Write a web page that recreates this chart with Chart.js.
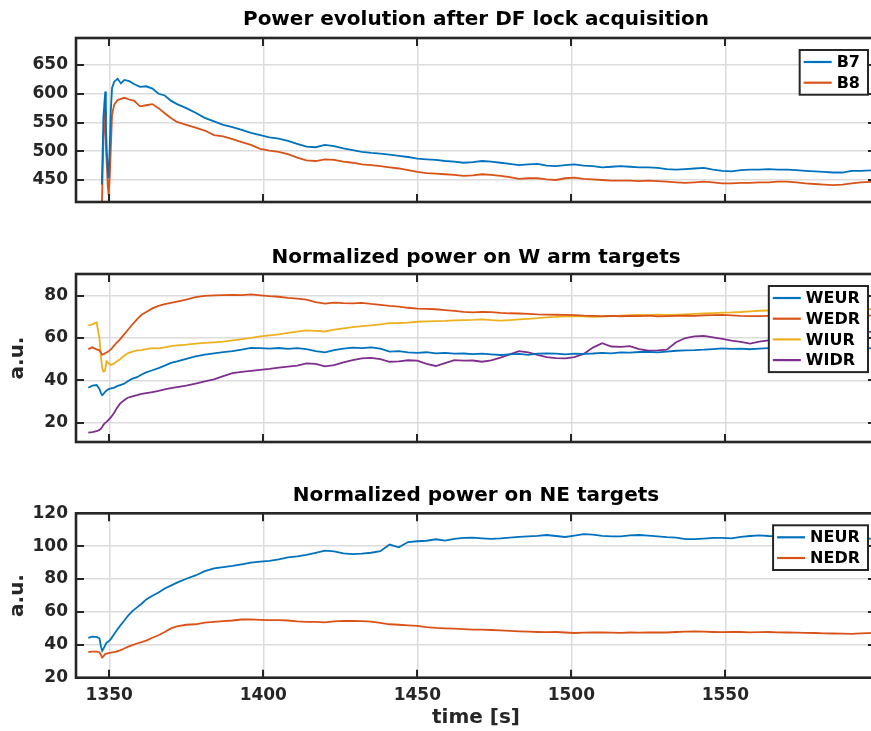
<!DOCTYPE html>
<html>
<head>
<meta charset="utf-8">
<script src="https://cdn.jsdelivr.net/npm/chart.js@4.4.1/dist/chart.umd.min.js"></script>
<style>
  html, body { margin:0; padding:0; background:#fff; width:871px; height:731px; overflow:hidden; }
  canvas { position:absolute; left:0; top:0; }
</style>
</head>
<body>
<canvas id="c1" width="880" height="731"></canvas>
<canvas id="c2" width="880" height="731"></canvas>
<canvas id="c3" width="880" height="731"></canvas>
<script>
// ---------- data ----------
const timeTicks = [1350, 1400, 1450, 1500, 1550];
const timeMin = 1339.2, timeMax = 1598.9;

const powerTicks = [450, 500, 550, 600, 650];
const wTicks = [20, 40, 60, 80];
const neTicks = [20, 40, 60, 80, 100, 120];

const timeB = [
  1347.6, 1348.1, 1348.5, 1348.7, 1348.9, 1349.2, 1349.5, 1349.8, 1350.2, 1350.5,
  1350.9, 1351.6, 1352.7, 1353.8, 1354.9, 1356.5, 1358, 1360, 1362, 1364,
  1366, 1368, 1370, 1372, 1375, 1378, 1381, 1384, 1387, 1390,
  1393, 1396, 1399, 1402, 1405, 1408, 1411, 1414, 1417, 1420,
  1423, 1426, 1429, 1432, 1435, 1438, 1441, 1444, 1447, 1450,
  1453, 1456, 1459, 1462, 1465, 1468, 1471, 1474, 1477, 1480,
  1483, 1486, 1489, 1492, 1495, 1498, 1501, 1504, 1507, 1510,
  1513, 1516, 1519, 1522, 1525, 1528, 1531, 1534, 1537, 1540,
  1543, 1546, 1549, 1552, 1555, 1558, 1561, 1564, 1567, 1570,
  1573, 1576, 1579, 1582, 1585, 1588, 1591, 1594, 1599
];
const B7 = [
  442, 560, 590, 604, 546, 500, 466, 453, 517, 570,
  610, 621, 626, 618, 624, 622, 617, 612, 613, 609,
  600, 597, 588, 582, 575, 567, 558, 552, 546, 542,
  537, 532, 528, 524, 522, 518, 513, 508, 507, 511,
  509, 505, 502, 499, 497, 496, 494, 492, 490, 487,
  486, 485, 483, 482, 480, 481, 483, 482, 480, 478,
  476, 477, 478, 475, 474, 476, 477, 475, 474, 472,
  473, 474, 473, 472, 472, 471, 469, 468, 469, 470,
  471, 468, 466, 465, 467, 468, 468, 469, 468, 468,
  467, 466, 465, 464, 463, 463, 466, 466, 467
];
const B8 = [
  405, 520, 560, 570, 506, 477, 440, 424, 462, 505,
  563, 581, 589, 591, 593, 590, 588, 578, 580, 582,
  575, 566, 558, 551, 546, 541, 536, 528, 526, 521,
  516, 511, 504, 501, 499, 495, 489, 484, 483, 486,
  485, 482, 480, 477, 476, 474, 472, 470, 467, 464,
  462, 461, 460, 459, 457, 458, 460, 459, 457, 455,
  452, 453, 453, 451, 450, 453, 454, 452, 451, 450,
  449, 449, 449, 448, 449, 448, 447, 446, 445, 446,
  447, 446, 444, 444, 445, 445, 446, 446, 447, 447,
  446, 444, 443, 442, 441, 442, 444, 446, 447
];

const timeT = [
  1343.2, 1344.5, 1345.9, 1346.8, 1347.3, 1347.7, 1348.1, 1348.6, 1349.1, 1349.7,
  1350.5, 1351.5, 1352.5, 1353.5, 1354.7, 1356, 1357.5, 1359, 1360.5, 1362,
  1364, 1366, 1368, 1370, 1372, 1375, 1378, 1381, 1384, 1387,
  1390, 1393, 1396, 1399, 1402, 1405, 1408, 1411, 1414, 1417,
  1420, 1423, 1426, 1429, 1432, 1435, 1438, 1441, 1444, 1447,
  1450, 1453, 1456, 1459, 1462, 1465, 1468, 1471, 1474, 1477,
  1480, 1483, 1486, 1489, 1492, 1495, 1498, 1501, 1504, 1507,
  1510, 1513, 1516, 1519, 1522, 1525, 1528, 1531, 1534, 1537,
  1540, 1543, 1546, 1549, 1552, 1555, 1558, 1561, 1564, 1567,
  1570, 1573, 1576, 1579, 1582, 1585, 1588, 1591, 1594, 1599
];
const WEUR = [
  36.5, 37.5, 37.8, 36, 34, 33, 33.5, 34.5, 35.2, 35.8,
  36.2, 36.5, 37.3, 37.8, 38.3, 39.6, 40.8, 41.5, 42.8, 43.8,
  44.8, 45.8, 47, 48.3, 49, 50.2, 51.3, 52.2, 52.8, 53.3,
  53.8, 54.5, 55.4, 55.2, 55, 55.3, 54.9, 55.2, 54.8, 53.8,
  53.2, 54.3, 55, 55.5, 55.2, 55.6, 55, 53.6, 53.8, 53.2,
  53, 53.3, 52.8, 53, 52.6, 52.7, 52.4, 52.6, 52.3, 52,
  52.3, 52.5, 52.1, 52.6, 52.8, 52.6, 52.3, 52.6, 52.5, 52.7,
  53, 52.8, 53.2, 53.1, 53.4, 53.5, 53.2, 53.6, 54, 54.2,
  54.3, 54.5, 54.8, 55.1, 54.9, 55, 54.7, 55, 55.2, 55.3,
  55.3, 55.5, 55.6, 55.6, 55.4, 55.5, 55.3, 55.2, 55.2, 55.1
];
const WEDR = [
  54.8, 55.6, 54.6, 54.2, 53, 52.1, 52.3, 52.8, 53.2, 53.6,
  54.6, 56.3, 58, 59.4, 61.5, 63.8, 66.4, 68.8, 71, 72.3,
  74, 75.2, 76, 76.6, 77.2, 78.2, 79.3, 79.9, 80.2, 80.3,
  80.4, 80.3, 80.6, 80.2, 79.8, 79.5, 79, 78.6, 78.1, 77,
  76.3, 76.7, 76.5, 76.4, 76.6, 76.1, 75.7, 75.2, 74.8, 74.3,
  73.9, 73.8, 73.6, 73.2, 72.8, 72.4, 72.1, 72.4, 72.2, 71.9,
  71.7, 71.6, 71.4, 71.2, 71.1, 71, 70.9, 70.8, 70.6, 70.5,
  70.4, 70.5, 70.3, 70.5, 70.4, 70.6, 70.2, 70.4, 70.5, 70.6,
  70.5, 70.7, 70.8, 70.9, 70.7, 70.5, 70.4, 70.4, 70.5, 70.6,
  70.5, 70.6, 70.7, 70.6, 70.7, 70.8, 70.6, 70.7, 70.7, 70.6
];
const WIUR = [
  66, 66.5, 67.4, 60, 51, 46, 44.2, 44.5, 49, 48.2,
  47.3, 47.9, 49, 50, 51.5, 52.8, 53.6, 54.2, 54.3, 54.8,
  55.2, 55.1, 55.6, 56.2, 56.5, 56.9, 57.4, 57.7, 58, 58.3,
  58.9, 59.5, 60.1, 60.8, 61.3, 61.7, 62.4, 63, 63.6, 63.4,
  63.1, 64, 64.6, 65.2, 65.6, 66, 66.5, 67, 67.1, 67.3,
  67.7, 67.9, 68, 68.1, 68.3, 68.5, 68.6, 68.8, 68.5, 68.2,
  68.5, 68.8, 69.1, 69.4, 69.8, 70, 70.3, 70.4, 70.2, 70,
  70.1, 70.4, 70.6, 70.8, 70.9, 70.8, 71, 70.9, 71, 71.2,
  71.4, 71.6, 71.8, 72, 72.1, 72.3, 72.6, 72.9, 73, 73.1,
  73.2, 73.3, 73.3, 73.4, 73.4, 73.5, 73.5, 73.6, 73.6, 73.6
];
const WIDR = [
  15.3, 15.6, 16, 16.6, 17.2, 18, 19, 19.8, 20.4, 21.2,
  22.5, 24.5, 27, 29, 30.5, 31.8, 32.5, 33, 33.6, 34,
  34.5, 35, 35.8, 36.3, 36.8, 37.5, 38.5, 39.5, 40.5, 42,
  43.4, 44, 44.5, 45, 45.4, 46, 46.5, 47, 48, 47.8,
  46.6, 47.2, 48.5, 49.6, 50.4, 50.6, 50, 48.8, 49, 49.5,
  49.3, 47.8, 46.8, 48.2, 49.6, 49.3, 49.4, 48.8, 49.5, 50.8,
  52.3, 53.8, 53.2, 52, 51, 50.5, 50.4, 51, 52.5, 55.5,
  57.6, 56, 55.8, 56.2, 54.8, 54, 54.2, 54.5, 58, 60,
  60.8, 61, 60.3, 59.6, 58.8, 58.2, 57.4, 58.3, 58.9, 59.5,
  60, 60.4, 60.8, 61.2, 61.6, 62, 62.3, 62.6, 62.8, 63
];
const NEUR = [
  44.2, 45, 44.8, 44, 39, 36.3, 37.5, 39.5, 41.2, 42,
  43.5, 46.3, 49, 51.5, 54.3, 57.5, 60.5, 62.8, 65, 67.6,
  69.8, 71.8, 74.3, 76, 77.8, 80.2, 82.2, 84.8, 86.5, 87.3,
  88, 89, 90, 90.6, 91, 92, 93.2, 93.8, 94.7, 96,
  97.3, 96.8, 95.6, 95.2, 95.5, 96, 97, 101, 99.3, 102.5,
  103, 103.3, 104.2, 103.4, 104.4, 105, 105.2, 104.8, 104.5, 104.7,
  105.2, 105.6, 106, 106.3, 106.8, 106.2, 105.6, 106.4, 107.3, 107,
  106.3, 106, 106, 106.6, 106.8, 106.4, 106, 105.5, 105.2, 104.3,
  104.3, 104.6, 105, 105, 104.8, 105.6, 106.2, 106.6, 106.2, 106,
  106, 105.8, 105.5, 105.5, 105.3, 105.1, 105, 104.8, 104.7, 104.5
];
const NEDR = [
  35.6, 35.8, 35.9, 35.5, 33.8, 32.3, 33, 34.2, 34.6, 35,
  35.2, 35.5, 36, 36.6, 37.6, 38.8, 39.8, 40.8, 41.6, 42.6,
  44.3, 45.8, 47.8, 50, 51.2, 52.2, 52.5, 53.5, 54, 54.4,
  54.8, 55.4, 55.5, 55.2, 55, 55, 54.8, 54.3, 54, 54,
  53.7, 54.2, 54.6, 54.5, 54.4, 54.1, 53.3, 52.5, 52.2, 51.8,
  51.5, 50.8, 50.3, 50, 49.8, 49.5, 49.3, 49.2, 49, 48.8,
  48.5, 48.2, 48, 47.8, 47.7, 47.8, 47.5, 47.2, 47.4, 47.5,
  47.6, 47.4, 47.3, 47.5, 47.4, 47.6, 47.5, 47.5, 47.8, 48,
  48.1, 48, 47.8, 47.7, 47.8, 47.8, 47.6, 47.7, 47.8, 47.6,
  47.5, 47.4, 47.3, 47.2, 47, 46.9, 46.8, 46.6, 47, 47.3
];

// ---------- styling ----------
const C_BLUE = '#0072BD', C_ORANGE = '#D95319', C_YELLOW = '#EDB120', C_PURPLE = '#7E2F8E';
const FONT = "'DejaVu Sans', 'Liberation Sans', sans-serif";
const AXIS_COLOR = '#262626';
const GRID_COLOR = '#dcdcdc';

function pairs(t, v) { return t.map((x, i) => ({ x: x, y: v[i] })); }

const matlabAxes = {
  id: 'matlabAxes',
  afterDatasetsDraw(chart) {
    const { ctx, chartArea: a, scales: { x, y } } = chart;
    const TL = 8;
    ctx.save();
    ctx.strokeStyle = AXIS_COLOR;
    ctx.lineWidth = 2;
    ctx.beginPath();
    x.ticks.forEach(t => {
      const px = Math.round(x.getPixelForValue(t.value));
      ctx.moveTo(px, a.bottom); ctx.lineTo(px, a.bottom - TL);
      ctx.moveTo(px, a.top); ctx.lineTo(px, a.top + TL);
    });
    y.ticks.forEach(t => {
      const py = Math.round(y.getPixelForValue(t.value));
      ctx.moveTo(a.left, py); ctx.lineTo(a.left + TL, py);
      ctx.moveTo(a.right, py); ctx.lineTo(a.right - TL, py);
    });
    ctx.stroke();
    ctx.lineWidth = 2.6;
    ctx.strokeRect(a.left, a.top, a.right - a.left, a.bottom - a.top);
    ctx.restore();
  },
  afterDraw(chart) {
    const { ctx, chartArea: a } = chart;
    const ds = chart.data.datasets;
    ctx.save();
    ctx.font = 'bold 16px ' + FONT;
    let tw = 0;
    ds.forEach(d => { tw = Math.max(tw, ctx.measureText(d.label).width); });
    const rowH = 20.7;
    const w = 37 + tw + 8;
    const h = 24 + (ds.length - 1) * rowH;
    const right = a.right - 8;
    const left = right - w;
    const top = a.top + 12;
    ctx.fillStyle = '#fff';
    ctx.fillRect(left, top, w, h);
    ctx.strokeStyle = AXIS_COLOR;
    ctx.lineWidth = 2;
    ctx.strokeRect(left, top, w, h);
    ds.forEach((d, i) => {
      const cy = top + 12 + i * rowH;
      ctx.strokeStyle = d.borderColor;
      ctx.lineWidth = 2.2;
      ctx.beginPath();
      ctx.moveTo(left + 4, cy); ctx.lineTo(left + 32, cy);
      ctx.stroke();
      ctx.fillStyle = '#000';
      ctx.textBaseline = 'middle';
      ctx.textAlign = 'left';
      ctx.fillText(d.label, left + 37, cy + 1);
    });
    ctx.restore();
  }
};

function makeChart(id, cfg) {
  const datasets = cfg.series.map(s => ({
    label: s.label, data: pairs(s.t, s.v), borderColor: s.color,
    borderWidth: 1.8, pointRadius: 0, fill: false, tension: 0
  }));
  const tickFont = { family: FONT, weight: 'bold', size: 17 };
  const labelFont = { family: FONT, weight: 'bold', size: 20 };
  return new Chart(document.getElementById(id), {
    type: 'line',
    data: { datasets },
    plugins: [matlabAxes],
    options: {
      responsive: false, animation: false, devicePixelRatio: 1,
      layout: { padding: { left: 0, right: 4, top: cfg.padTop, bottom: cfg.padBottom } },
      plugins: {
        legend: { display: false },
        tooltip: { enabled: false },
        title: {
          display: true, text: cfg.title, fullSize: false, color: '#000',
          font: { family: FONT, weight: 'bold', size: 20 },
          padding: { top: 0, bottom: cfg.titleGap }
        }
      },
      scales: {
        x: {
          type: 'linear', min: timeMin, max: timeMax,
          afterBuildTicks: s => { s.ticks = timeTicks.map(v => ({ value: v })); },
          afterFit: s => { s.height = cfg.xHeight; },
          grid: { color: GRID_COLOR, lineWidth: 1.5, drawTicks: false },
          border: { display: false },
          ticks: {
            display: cfg.showX, autoSkip: false, maxRotation: 0, padding: 7.6,
            color: AXIS_COLOR, font: tickFont, callback: v => String(v)
          },
          title: {
            display: cfg.showX, text: 'time [s]', color: AXIS_COLOR, font: labelFont,
            padding: { top: 0, bottom: 1 }
          }
        },
        y: {
          type: 'linear', min: cfg.yMin, max: cfg.yMax,
          afterBuildTicks: s => { s.ticks = cfg.yTicks.map(v => ({ value: v })); },
          afterFit: s => { s.width = 76; },
          grid: { color: GRID_COLOR, lineWidth: 1.5, drawTicks: false },
          border: { display: false },
          ticks: { autoSkip: false, padding: 8, color: AXIS_COLOR, font: tickFont, callback: v => String(v) },
          title: {
            display: !!cfg.yLabel, text: cfg.yLabel || '', color: AXIS_COLOR, font: labelFont,
            padding: { top: 6, bottom: 0 }
          }
        }
      }
    }
  });
}

makeChart('c1', {
  title: 'Power evolution after DF lock acquisition',
  padTop: 8, titleGap: 6, padBottom: 529, xHeight: 0, showX: false,
  yMin: 411.7, yMax: 697, yTicks: powerTicks, yLabel: null,
  series: [
    { label: 'B7', t: timeB, v: B7, color: C_BLUE },
    { label: 'B8', t: timeB, v: B8, color: C_ORANGE }
  ]
});
makeChart('c2', {
  title: 'Normalized power on W arm targets',
  padTop: 246, titleGap: 4, padBottom: 289, xHeight: 0, showX: false,
  yMin: 10.9, yMax: 90.25, yTicks: wTicks, yLabel: 'a.u.',
  series: [
    { label: 'WEUR', t: timeT, v: WEUR, color: C_BLUE },
    { label: 'WEDR', t: timeT, v: WEDR, color: C_ORANGE },
    { label: 'WIUR', t: timeT, v: WIUR, color: C_YELLOW },
    { label: 'WIDR', t: timeT, v: WIDR, color: C_PURPLE }
  ]
});
makeChart('c3', {
  title: 'Normalized power on NE targets',
  padTop: 484, titleGap: 5.3, padBottom: 0, xHeight: 53.3, showX: true,
  yMin: 20, yMax: 120, yTicks: neTicks, yLabel: 'a.u.',
  series: [
    { label: 'NEUR', t: timeT, v: NEUR, color: C_BLUE },
    { label: 'NEDR', t: timeT, v: NEDR, color: C_ORANGE }
  ]
});
</script>
</body>
</html>
